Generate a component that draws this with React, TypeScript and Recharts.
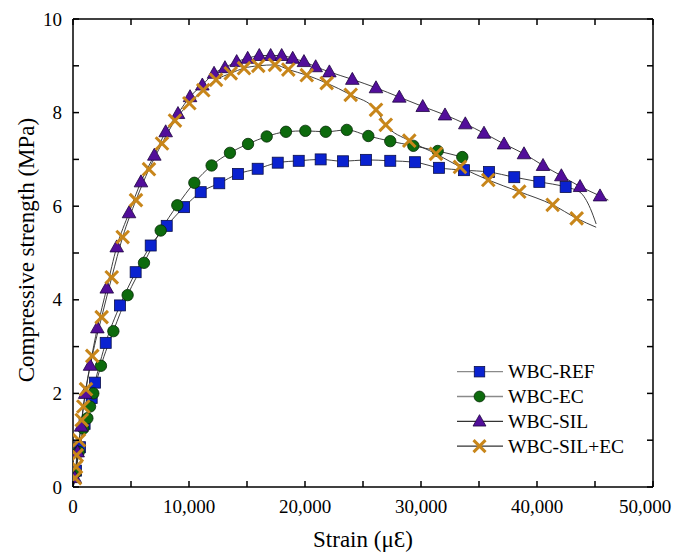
import React from 'react';
import { ComposedChart, Line, XAxis, YAxis, Label } from 'recharts';

// marker points (strain in µε, stress in MPa)
const refStrain = [250, 600, 1000, 1610, 1900, 2820, 4050, 5400, 6700, 8080, 9570, 11010, 12610, 14220, 15920, 17650, 19460, 21350, 23280, 25260, 27350, 29480, 31550, 33710, 35860, 38040, 40200, 42470];
const refStress = [0.35, 0.85, 1.35, 1.9, 2.23, 3.08, 3.88, 4.59, 5.16, 5.58, 5.98, 6.3, 6.49, 6.69, 6.8, 6.93, 6.97, 7.0, 6.96, 6.99, 6.97, 6.94, 6.82, 6.77, 6.73, 6.62, 6.52, 6.41];
const refTailStrain = [43700, 44600, 45100];
const refTailStress = [6.3, 5.95, 5.62];

const ecStrain = [200, 500, 890, 1240, 1470, 1750, 2410, 3480, 4710, 6120, 7560, 8990, 10460, 11950, 13530, 15090, 16700, 18360, 20030, 21790, 23600, 25460, 27350, 29340, 31440, 33560];
const ecStress = [0.3, 0.75, 1.25, 1.47, 1.72, 2.0, 2.59, 3.33, 4.1, 4.79, 5.48, 6.02, 6.5, 6.87, 7.14, 7.33, 7.49, 7.59, 7.61, 7.59, 7.63, 7.5, 7.39, 7.29, 7.18, 7.05];
const ecTailStrain: number[] = [];
const ecTailStress: number[] = [];

const silStrain = [150, 400, 700, 1050, 1470, 2100, 2910, 3770, 4830, 5860, 7010, 7990, 9050, 10090, 11150, 12160, 13100, 14110, 15060, 16060, 17040, 17990, 18940, 19910, 20920, 22100, 24080, 26120, 28130, 30150, 32070, 33820, 35430, 37160, 38880, 40520, 42100, 43710, 45430];
const silStress = [0.2, 0.75, 1.3, 2.0, 2.6, 3.4, 4.25, 5.13, 5.86, 6.52, 7.09, 7.59, 7.98, 8.34, 8.59, 8.84, 8.96, 9.09, 9.16, 9.22, 9.22, 9.22, 9.16, 9.09, 8.98, 8.87, 8.71, 8.53, 8.33, 8.13, 7.95, 7.76, 7.56, 7.33, 7.12, 6.87, 6.65, 6.42, 6.22];
const silTailStrain = [46150];
const silTailStress = [6.13];

const silEcStrain = [170, 260, 320, 520, 750, 890, 1120, 1660, 2470, 3340, 4280, 5430, 6550, 7670, 8790, 10030, 11230, 12330, 13600, 14740, 15970, 17410, 18560, 20150, 21870, 23940, 26120, 26960, 28990, 31290, 33360, 35800, 38470, 41350, 43420];
const silEcStress = [0.19, 0.43, 0.68, 1.0, 1.43, 1.72, 2.09, 2.8, 3.63, 4.48, 5.34, 6.13, 6.79, 7.34, 7.83, 8.2, 8.48, 8.7, 8.84, 8.95, 9.0, 9.02, 8.92, 8.8, 8.63, 8.38, 8.06, 7.74, 7.4, 7.12, 6.84, 6.56, 6.31, 6.03, 5.74];
const silEcTailStrain = [45100];
const silEcTailStress = [5.55];

const xTicks = [0, 5000, 10000, 15000, 20000, 25000, 30000, 35000, 40000, 45000, 50000];
const yTicks = [0, 1, 2, 3, 4, 5, 6, 7, 8, 9, 10];

const FONT = "'Liberation Serif', 'Times New Roman', serif";
const LINE_COLOR = '#2a2a2a';
const CHART_W = 665;

type Pt = { x: number; y: number; marker: boolean };

const build = (xs: number[], ys: number[], tx: number[], ty: number[]): Pt[] => [
  { x: 0, y: 0, marker: false },
  ...xs.map((x, i) => ({ x, y: ys[i], marker: true })),
  ...tx.map((x, i) => ({ x, y: ty[i], marker: false })),
];

const refData = build(refStrain, refStress, refTailStrain, refTailStress);
const ecData = build(ecStrain, ecStress, ecTailStrain, ecTailStress);
const silData = build(silStrain, silStress, silTailStrain, silTailStress);
const silEcData = build(silEcStrain, silEcStress, silEcTailStrain, silEcTailStress);

type Kind = 'square' | 'circle' | 'triangle' | 'cross';

const Marker = ({ kind, cx, cy, scale = 1 }: { kind: Kind; cx: number; cy: number; scale?: number }) => {
  const s = scale;
  if (kind === 'square') {
    return <rect x={cx - 5.5 * s} y={cy - 5.5 * s} width={11 * s} height={11 * s} fill="#0a22d0" stroke="#0a0f4a" strokeWidth={0.8} />;
  }
  if (kind === 'circle') {
    return <circle cx={cx} cy={cy} r={5.7 * s} fill="#0d6a0d" stroke="#052a05" strokeWidth={0.8} />;
  }
  if (kind === 'triangle') {
    const pts = `${cx},${cy - 7 * s} ${cx - 6.8 * s},${cy + 5 * s} ${cx + 6.8 * s},${cy + 5 * s}`;
    return <polygon points={pts} fill="#520e9a" stroke="#1e0440" strokeWidth={0.8} />;
  }
  const d = 6.3 * s;
  return (
    <g stroke="#c8861a" strokeWidth={3}>
      <line x1={cx - d} y1={cy - d} x2={cx + d} y2={cy + d} />
      <line x1={cx - d} y1={cy + d} x2={cx + d} y2={cy - d} />
    </g>
  );
};

const makeDot = (kind: Kind) => (props: any) => {
  const { cx, cy, payload, index } = props;
  if (!payload || !payload.marker || cx == null || cy == null) return <g key={`e-${kind}-${index}`} />;
  return (
    <g key={`d-${kind}-${index}`}>
      <Marker kind={kind} cx={cx} cy={cy} />
    </g>
  );
};

const fmt = (v: number) => v.toLocaleString('en-US');

// ticks point into the plot; labels only on major ticks
const BottomTick = (props: any) => {
  const { x, y, payload } = props;
  const v = payload.value;
  // the last label would run past the page edge, so it is kept inside
  const tx = Math.min(x, CHART_W - 28);
  return (
    <g>
      <line x1={x} x2={x} y1={y} y2={y - 6} stroke="#000" strokeWidth={1.5} />
      {v % 10000 === 0 && (
        <text x={tx} y={y + 19} textAnchor="middle" dominantBaseline="central" fontSize={19} fontFamily={FONT} fill="#000">
          {fmt(v)}
        </text>
      )}
    </g>
  );
};

const TopTick = (props: any) => {
  const { x, y } = props;
  return <line x1={x} x2={x} y1={y} y2={y + 6} stroke="#000" strokeWidth={1.5} />;
};

const LeftTick = (props: any) => {
  const { x, y, payload } = props;
  const v = payload.value;
  return (
    <g>
      <line x1={x} x2={x + 6} y1={y} y2={y} stroke="#000" strokeWidth={1.5} />
      {v % 2 === 0 && (
        <text x={x - 11} y={y} textAnchor="end" dominantBaseline="central" fontSize={19} fontFamily={FONT} fill="#000">
          {v}
        </text>
      )}
    </g>
  );
};

const RightTick = (props: any) => {
  const { x, y } = props;
  return <line x1={x} x2={x - 6} y1={y} y2={y} stroke="#000" strokeWidth={1.5} />;
};

const legendItems: { name: string; kind: Kind; line: string }[] = [
  { name: 'WBC-REF', kind: 'square', line: '#8a8a8a' },
  { name: 'WBC-EC', kind: 'circle', line: '#8a8a8a' },
  { name: 'WBC-SIL', kind: 'triangle', line: '#333' },
  { name: 'WBC-SIL+EC', kind: 'cross', line: '#333' },
];

const ChartLegend = () => (
  <svg width={215} height={105} style={{ position: 'absolute', left: 445, top: 350 }}>
    {legendItems.map((it, i) => {
      const cy = 13.7 + i * 24.8;
      return (
        <g key={it.name}>
          <line x1={4} x2={50} y1={cy} y2={cy} stroke={it.line} strokeWidth={1.3} />
          <Marker kind={it.kind} cx={26.5} cy={cy} scale={0.95} />
          <text x={55} y={cy} dominantBaseline="central" fontSize={19.5} fontFamily={FONT} fill="#000">
            {it.name}
          </text>
        </g>
      );
    })}
  </svg>
);

const series = [
  { name: 'WBC-REF', data: refData, kind: 'square' as Kind },
  { name: 'WBC-EC', data: ecData, kind: 'circle' as Kind },
  { name: 'WBC-SIL', data: silData, kind: 'triangle' as Kind },
  { name: 'WBC-SIL+EC', data: silEcData, kind: 'cross' as Kind },
];

const App = () => {
  return (
    <div style={{ position: 'relative', width: CHART_W, height: 546, fontFamily: FONT }}>
      <ComposedChart width={CHART_W} height={546} margin={{ top: 10, right: 19, bottom: 0, left: 5 }}>
        <XAxis
          dataKey="x"
          type="number"
          domain={[0, 50000]}
          allowDataOverflow
          ticks={xTicks}
          interval={0}
          tickSize={0}
          tickMargin={0}
          tickLine={false}
          tick={<BottomTick />}
          axisLine={{ stroke: '#000', strokeWidth: 1.5 }}
          height={67}
        >
          <Label
            content={(p: any) => {
              const vb = p.viewBox;
              return (
                <text x={vb.x + vb.width / 2} y={vb.y + 60} textAnchor="middle" fontSize={23} fontFamily={FONT} fill="#000">
                  Strain (μƐ)
                </text>
              );
            }}
          />
        </XAxis>
        <XAxis
          xAxisId="top"
          orientation="top"
          dataKey="x"
          type="number"
          domain={[0, 50000]}
          allowDataOverflow
          ticks={xTicks}
          interval={0}
          tickSize={0}
          tickMargin={0}
          tickLine={false}
          tick={<TopTick />}
          axisLine={{ stroke: '#000', strokeWidth: 1.5 }}
          height={1}
        />
        <YAxis
          type="number"
          domain={[0, 10]}
          allowDataOverflow
          ticks={yTicks}
          interval={0}
          tickSize={0}
          tickMargin={0}
          tickLine={false}
          tick={<LeftTick />}
          axisLine={{ stroke: '#000', strokeWidth: 1.5 }}
          width={60}
        >
          <Label
            content={(p: any) => {
              const vb = p.viewBox;
              const cx = vb.x + 13;
              const cy = vb.y + vb.height / 2 - 3;
              return (
                <text
                  transform={`translate(${cx}, ${cy}) rotate(-90)`}
                  textAnchor="middle"
                  dominantBaseline="central"
                  fontSize={23}
                  fontFamily={FONT}
                  fill="#000"
                >
                  Compressive strength (MPa)
                </text>
              );
            }}
          />
        </YAxis>
        <YAxis
          yAxisId="right"
          orientation="right"
          type="number"
          domain={[0, 10]}
          allowDataOverflow
          ticks={yTicks}
          interval={0}
          tickSize={0}
          tickMargin={0}
          tickLine={false}
          tick={<RightTick />}
          axisLine={{ stroke: '#000', strokeWidth: 1.5 }}
          width={1}
        />
        {series.map((s) => (
          <Line
            key={s.name}
            name={s.name}
            data={s.data}
            dataKey="y"
            type="monotone"
            stroke={LINE_COLOR}
            strokeWidth={0.9}
            dot={makeDot(s.kind)}
            activeDot={false}
            isAnimationActive={false}
          />
        ))}
      </ComposedChart>
      <ChartLegend />
    </div>
  );
};

export default App;
